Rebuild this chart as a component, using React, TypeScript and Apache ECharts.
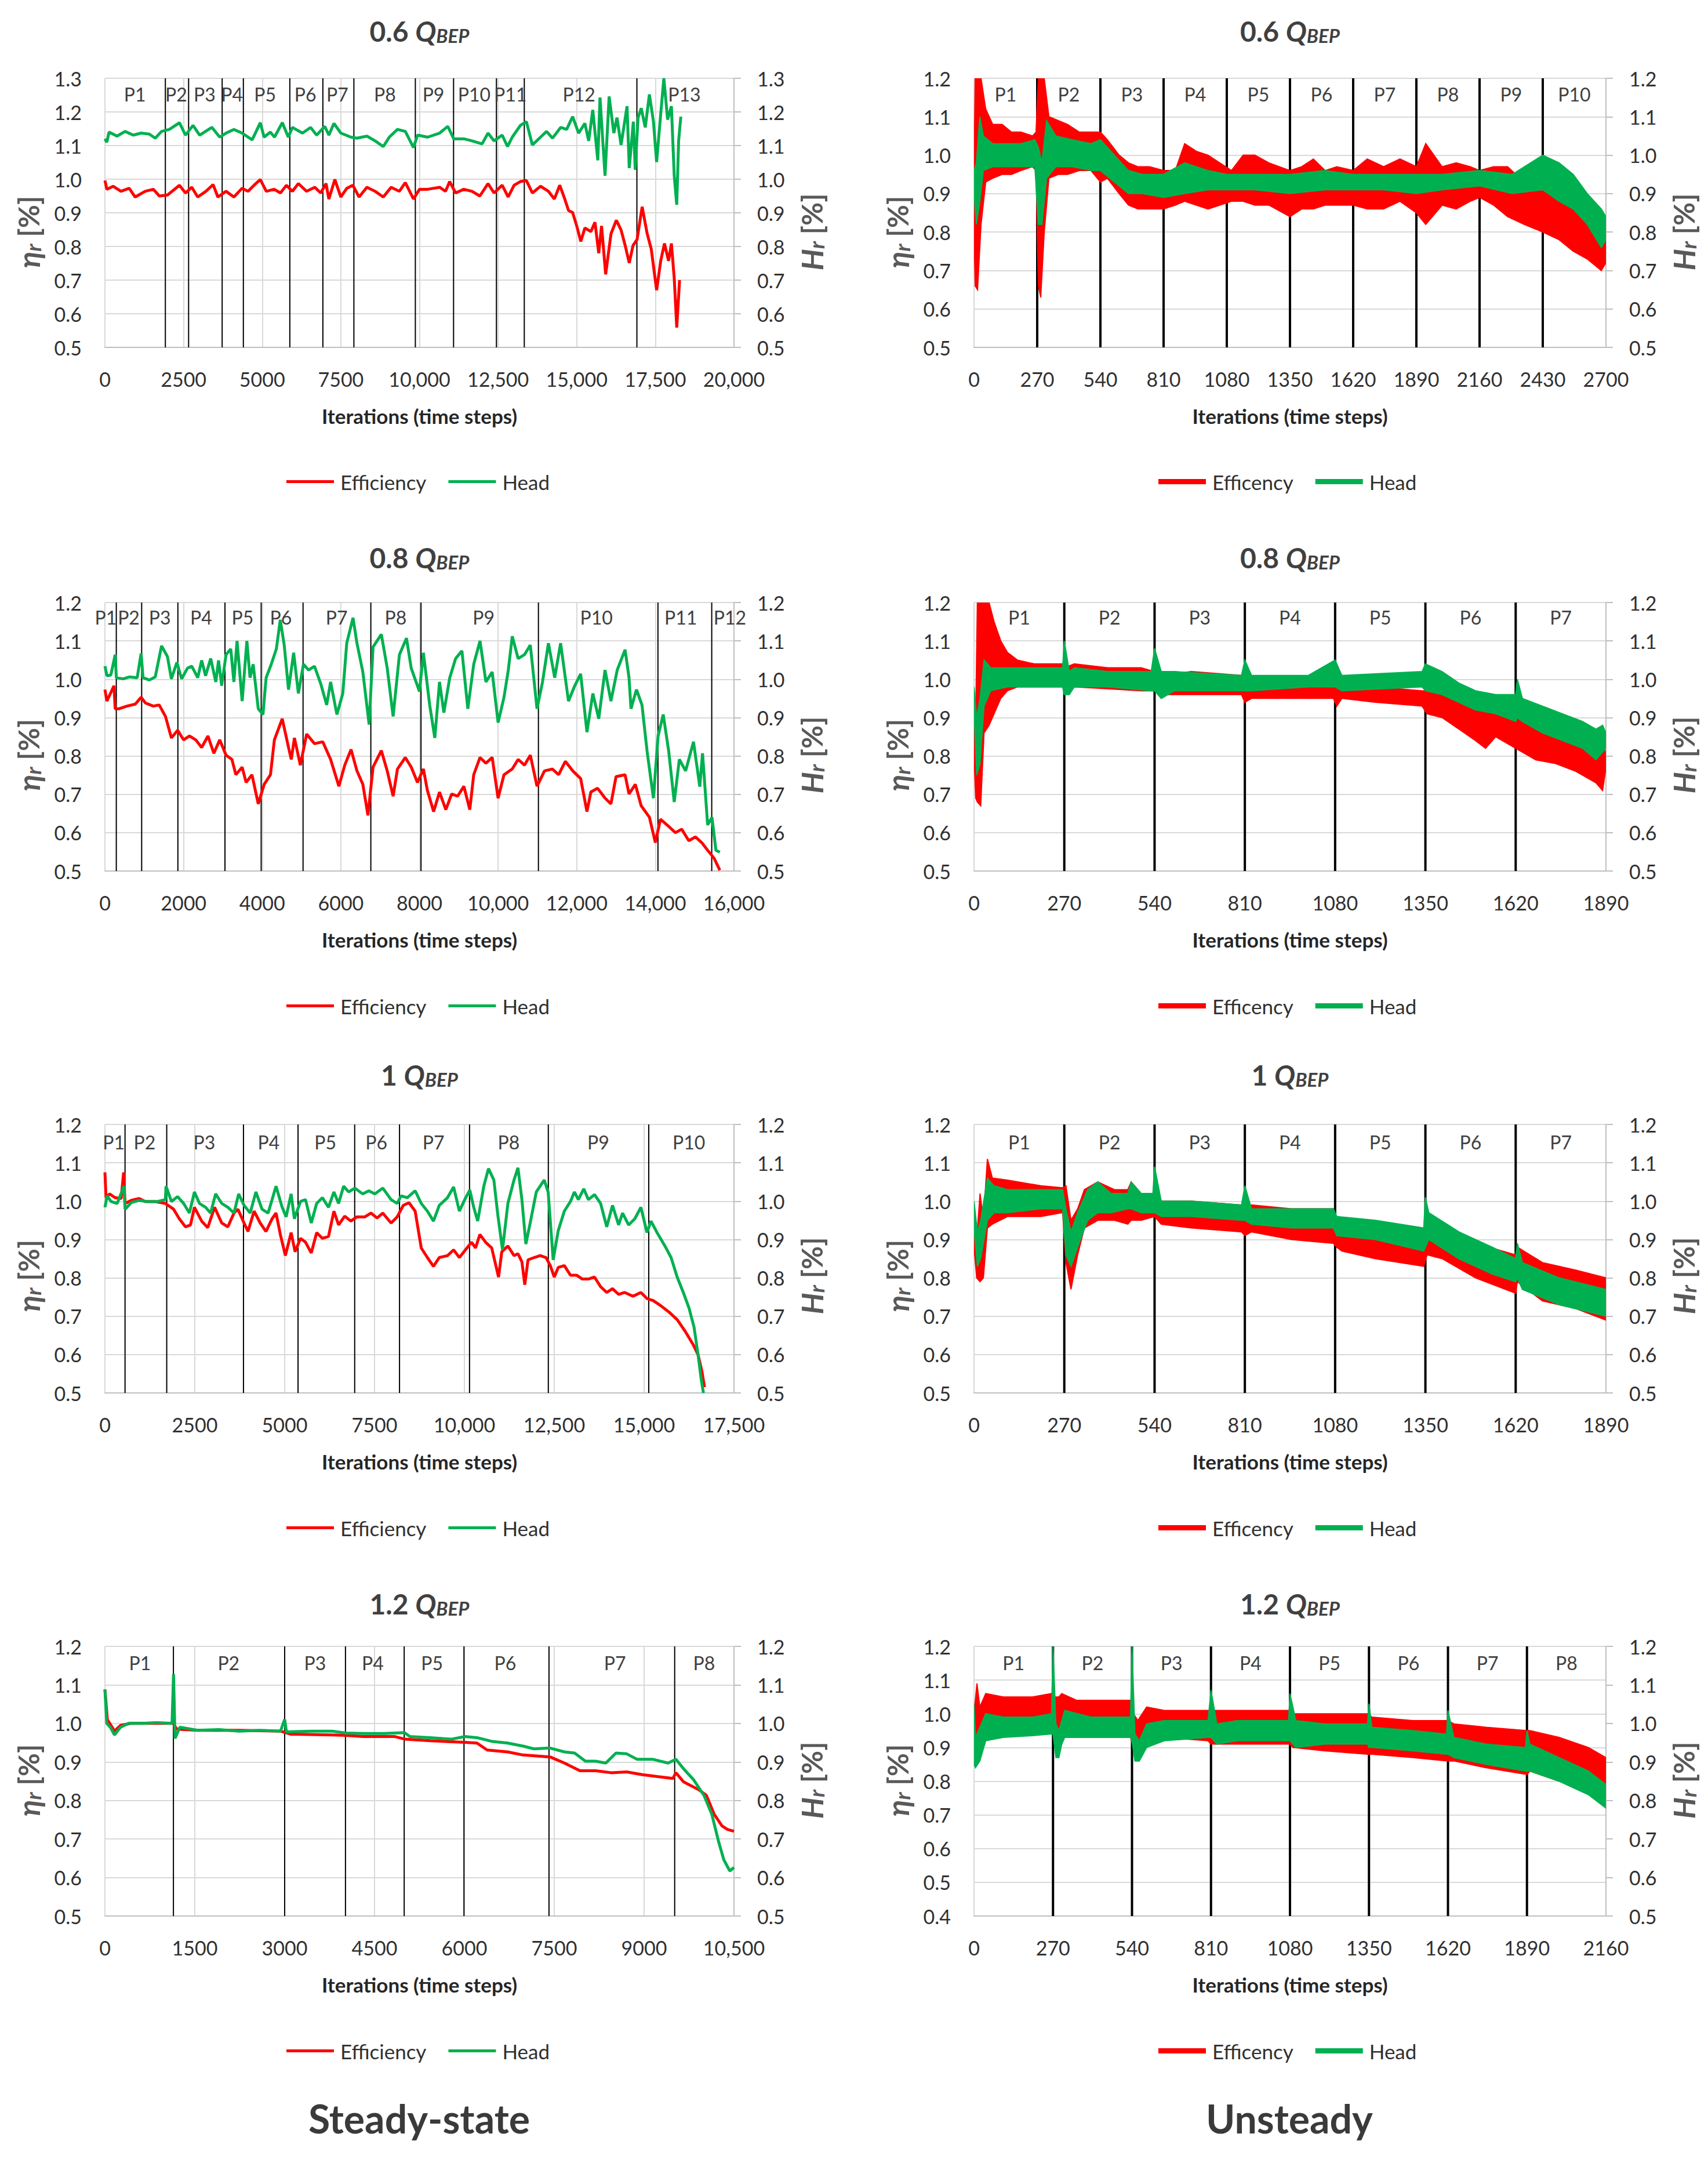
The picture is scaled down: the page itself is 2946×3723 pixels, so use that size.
import React, { useEffect, useRef } from "react";
import * as echarts from "echarts";

const RED = "#ff0000";
const GREEN = "#00b050";
const TXT = "#404040";
const TICK = "#303030";
const FONT = 'Lato, "Open Sans", "DejaVu Sans", sans-serif';

// ---------------- Steady-state 0.6 Q_BEP ----------------
const s06Periods = [1921, 2660, 3727, 4401, 5878, 6929, 7915, 9869, 11084, 12447, 13333, 16913];
const s06Labels = ["P1", "P2", "P3", "P4", "P5", "P6", "P7", "P8", "P9", "P10", "P11", "P12", "P13"];
const s06LabelX = [952, 2266, 3169, 4039, 5090, 6371, 7389, 8900, 10443, 11741, 12890, 15074, 18424];
const s06Eff = [
  [0, 0.996], [60, 0.97], [260, 0.979], [510, 0.964], [770, 0.973], [960, 0.947], [1280, 0.964], [1540, 0.97],
  [1730, 0.95], [1990, 0.953], [2370, 0.982], [2560, 0.959], [2760, 0.976], [2950, 0.947], [3210, 0.964],
  [3440, 0.984], [3590, 0.947], [3850, 0.964], [4100, 0.947], [4360, 0.973], [4550, 0.964], [4740, 0.982],
  [4940, 0.999], [5130, 0.964], [5380, 0.97], [5580, 0.959], [5770, 0.982], [5960, 0.964], [6150, 0.987],
  [6410, 0.964], [6670, 0.976], [6860, 0.959], [7030, 0.987], [7120, 0.941], [7310, 0.999], [7500, 0.947],
  [7690, 0.973], [7880, 0.982], [8080, 0.947], [8330, 0.976], [8590, 0.964], [8850, 0.947], [9100, 0.976],
  [9360, 0.964], [9550, 0.99], [9810, 0.941], [10000, 0.97], [10260, 0.97], [10640, 0.976], [10830, 0.964],
  [10960, 0.993], [11150, 0.959], [11410, 0.97], [11670, 0.964], [11920, 0.95], [12180, 0.987], [12370, 0.959],
  [12630, 0.982], [12820, 0.947], [13010, 0.982], [13210, 0.993], [13400, 0.996], [13590, 0.959], [13850, 0.979],
  [14100, 0.964], [14290, 0.941], [14460, 0.982], [14620, 0.941], [14740, 0.907], [14870, 0.901], [15000, 0.861],
  [15130, 0.815], [15260, 0.855], [15450, 0.844], [15580, 0.872], [15700, 0.78], [15790, 0.861], [15920, 0.717],
  [16090, 0.838], [16260, 0.878], [16410, 0.849], [16540, 0.803], [16670, 0.751], [16790, 0.803], [16920, 0.821],
  [17080, 0.918], [17240, 0.838], [17370, 0.792], [17540, 0.67], [17670, 0.757], [17790, 0.809], [17920, 0.757],
  [18010, 0.809], [18100, 0.706], [18180, 0.559], [18270, 0.7],
];
const s06Head = [
  [0, 1.12], [60, 1.11], [130, 1.14], [385, 1.128], [640, 1.142], [900, 1.131], [1150, 1.137], [1410, 1.134],
  [1600, 1.122], [1800, 1.142], [2050, 1.148], [2370, 1.168], [2560, 1.131], [2800, 1.16], [3010, 1.131],
  [3400, 1.154], [3650, 1.125], [3850, 1.137], [4100, 1.148], [4360, 1.137], [4680, 1.117], [4940, 1.168],
  [5060, 1.125], [5260, 1.14], [5390, 1.125], [5640, 1.168], [5830, 1.125], [5960, 1.154], [6280, 1.137],
  [6540, 1.154], [6730, 1.131], [6990, 1.157], [7120, 1.131], [7280, 1.166], [7500, 1.137], [7820, 1.125],
  [8010, 1.122], [8330, 1.128], [8590, 1.114], [8850, 1.097], [9040, 1.125], [9300, 1.148], [9550, 1.142],
  [9810, 1.094], [9940, 1.131], [10260, 1.125], [10640, 1.137], [10900, 1.157], [11090, 1.12], [11410, 1.12],
  [11670, 1.114], [11990, 1.105], [12180, 1.137], [12370, 1.114], [12630, 1.131], [12800, 1.097], [12950, 1.125],
  [13210, 1.16], [13400, 1.171], [13590, 1.102], [13850, 1.125], [14040, 1.142], [14230, 1.122], [14490, 1.154],
  [14680, 1.148], [14870, 1.186], [15060, 1.137], [15260, 1.166], [15380, 1.114], [15510, 1.206], [15670, 1.056],
  [15740, 1.243], [15900, 1.01], [16030, 1.246], [16180, 1.137], [16280, 1.183], [16410, 1.102], [16600, 1.217],
  [16670, 1.033], [16800, 1.171], [16860, 1.028], [16950, 1.183], [17050, 1.211], [17180, 1.154], [17310, 1.252],
  [17440, 1.171], [17540, 1.051], [17670, 1.194], [17770, 1.3], [17890, 1.177], [18010, 1.217], [18100, 1.01],
  [18180, 0.924], [18240, 1.114], [18310, 1.186],
];

// ---------------- Steady-state 0.8 Q_BEP ----------------
const s08Periods = [289, 934, 1855, 3053, 3974, 5039, 6763, 8039, 11026, 14066, 15434];
const s08Labels = ["P1", "P2", "P3", "P4", "P5", "P6", "P7", "P8", "P9", "P10", "P11", "P12"];
const s08LabelX = [20, 605, 1395, 2447, 3500, 4474, 5895, 7395, 9632, 12500, 14645, 15895];
const s08Eff = [
  [0, 0.973], [50, 0.943], [230, 0.983], [260, 0.923], [360, 0.923], [560, 0.93], [770, 0.935], [920, 0.953],
  [1030, 0.938], [1230, 0.93], [1380, 0.933], [1540, 0.903], [1690, 0.847], [1850, 0.867], [2000, 0.842],
  [2150, 0.852], [2310, 0.842], [2460, 0.822], [2620, 0.852], [2770, 0.807], [2920, 0.842], [3080, 0.802],
  [3230, 0.791], [3330, 0.751], [3490, 0.771], [3590, 0.731], [3740, 0.751], [3900, 0.675], [4050, 0.726],
  [4210, 0.751], [4310, 0.842], [4510, 0.897], [4670, 0.822], [4740, 0.791], [4820, 0.847], [4970, 0.776],
  [5130, 0.857], [5330, 0.832], [5540, 0.837], [5740, 0.791], [5950, 0.721], [6100, 0.776], [6260, 0.817],
  [6410, 0.761], [6560, 0.726], [6690, 0.645], [6820, 0.771], [7030, 0.814], [7180, 0.761], [7330, 0.695],
  [7440, 0.766], [7640, 0.796], [7790, 0.771], [7950, 0.731], [8100, 0.766], [8200, 0.711], [8360, 0.655],
  [8510, 0.706], [8670, 0.66], [8820, 0.701], [8970, 0.695], [9130, 0.721], [9280, 0.66], [9380, 0.751],
  [9540, 0.796], [9690, 0.781], [9850, 0.796], [10000, 0.69], [10150, 0.751], [10360, 0.766], [10510, 0.791],
  [10670, 0.776], [10820, 0.802], [10990, 0.721], [11180, 0.761], [11380, 0.766], [11540, 0.751], [11710, 0.786],
  [11900, 0.761], [12100, 0.741], [12260, 0.655], [12360, 0.706], [12530, 0.716], [12720, 0.69], [12870, 0.675],
  [13000, 0.746], [13230, 0.751], [13330, 0.701], [13490, 0.726], [13640, 0.67], [13850, 0.64], [14000, 0.574],
  [14130, 0.635], [14310, 0.619], [14510, 0.6], [14670, 0.609], [14850, 0.579], [15020, 0.589], [15180, 0.574],
  [15330, 0.554], [15490, 0.534], [15640, 0.502],
];
const s08Head = [
  [0, 1.034], [50, 1.009], [150, 1.011], [260, 1.064], [290, 1.004], [460, 1.001], [620, 1.006], [820, 1.004],
  [920, 1.067], [970, 1.004], [1130, 0.998], [1280, 1.006], [1440, 1.087], [1590, 1.059], [1690, 1.001],
  [1830, 1.044], [1950, 1.001], [2100, 1.029], [2210, 1.034], [2360, 1.004], [2460, 1.049], [2560, 1.009],
  [2690, 1.054], [2820, 0.993], [2890, 1.049], [2970, 0.983], [3080, 1.064], [3200, 1.079], [3280, 0.993],
  [3360, 1.1], [3490, 0.943], [3610, 1.1], [3690, 1.004], [3770, 1.039], [3900, 0.923], [4020, 0.908],
  [4100, 1.004], [4230, 1.039], [4360, 1.079], [4460, 1.155], [4560, 1.089], [4670, 0.973], [4800, 1.069],
  [4920, 0.963], [5050, 1.039], [5180, 1.024], [5330, 1.034], [5490, 0.988], [5640, 0.933], [5740, 0.993],
  [5900, 0.908], [6050, 0.963], [6150, 1.094], [6310, 1.16], [6410, 1.094], [6560, 1.019], [6720, 0.882],
  [6820, 1.084], [7030, 1.117], [7180, 1.029], [7330, 0.903], [7490, 1.064], [7670, 1.107], [7790, 1.029],
  [8000, 0.968], [8100, 1.069], [8260, 0.933], [8390, 0.847], [8510, 0.993], [8620, 0.913], [8770, 1.004],
  [8920, 1.054], [9080, 1.074], [9230, 0.923], [9380, 1.039], [9540, 1.1], [9690, 0.993], [9850, 1.019],
  [10000, 0.887], [10150, 0.953], [10260, 1.024], [10360, 1.112], [10510, 1.054], [10670, 1.064], [10820, 1.089],
  [10990, 0.923], [11130, 0.993], [11280, 1.094], [11440, 1.004], [11590, 1.094], [11790, 0.943], [11950, 0.983],
  [12100, 1.014], [12260, 0.862], [12410, 0.963], [12560, 0.897], [12720, 1.024], [12870, 0.943], [13030, 1.024],
  [13230, 1.077], [13330, 1.004], [13380, 0.923], [13520, 0.973], [13660, 0.933], [13790, 0.812], [13950, 0.69],
  [14070, 0.852], [14200, 0.908], [14340, 0.812], [14480, 0.68], [14610, 0.791], [14770, 0.761], [14970, 0.837],
  [15130, 0.72], [15200, 0.807], [15330, 0.62], [15440, 0.64], [15540, 0.554], [15640, 0.549],
];

// ---------------- Steady-state 1 Q_BEP ----------------
const s10Periods = [559, 1719, 3854, 5372, 6948, 8195, 10143, 12335, 15129];
const s10Labels = ["P1", "P2", "P3", "P4", "P5", "P6", "P7", "P8", "P9", "P10"];
const s10LabelX = [244, 1103, 2765, 4556, 6132, 7550, 9140, 11232, 13725, 16246];
const s10Eff = [
  [0, 1.075], [30, 1.009], [130, 1.019], [280, 1.009], [450, 1.007], [520, 1.075], [560, 0.994], [730, 1.002],
  [950, 1.007], [1120, 0.999], [1400, 0.999], [1680, 0.994], [1910, 0.979], [2070, 0.954], [2240, 0.933],
  [2380, 0.938], [2490, 0.984], [2690, 0.948], [2860, 0.931], [3050, 0.984], [3250, 0.943], [3420, 0.933],
  [3590, 0.969], [3700, 0.979], [3870, 0.943], [3980, 0.921], [4150, 0.974], [4320, 0.943], [4480, 0.921],
  [4650, 0.954], [4760, 0.969], [4880, 0.913], [5020, 0.858], [5180, 0.918], [5290, 0.868], [5440, 0.903],
  [5580, 0.893], [5740, 0.865], [5890, 0.918], [6050, 0.903], [6220, 0.908], [6370, 0.974], [6500, 0.938],
  [6670, 0.961], [6840, 0.948], [7010, 0.959], [7230, 0.959], [7400, 0.969], [7570, 0.956], [7730, 0.969],
  [7960, 0.943], [8130, 0.959], [8300, 0.989], [8460, 0.996], [8630, 0.974], [8800, 0.878], [8970, 0.853],
  [9140, 0.83], [9300, 0.853], [9530, 0.858], [9700, 0.873], [9860, 0.853], [10030, 0.873], [10200, 0.893],
  [10310, 0.878], [10430, 0.913], [10590, 0.893], [10760, 0.878], [10850, 0.842], [10950, 0.802], [11040, 0.868],
  [11210, 0.883], [11380, 0.858], [11490, 0.863], [11600, 0.842], [11680, 0.782], [11770, 0.847], [11940, 0.853],
  [12110, 0.858], [12270, 0.853], [12390, 0.832], [12500, 0.802], [12610, 0.827], [12780, 0.832], [12950, 0.807],
  [13120, 0.807], [13280, 0.797], [13450, 0.797], [13620, 0.802], [13790, 0.777], [13960, 0.762], [14120, 0.772],
  [14290, 0.757], [14460, 0.762], [14690, 0.752], [14910, 0.762], [15080, 0.746], [15250, 0.741], [15470, 0.727],
  [15690, 0.711], [15920, 0.691], [16140, 0.661], [16370, 0.625], [16500, 0.6], [16610, 0.555], [16680, 0.515],
];
const s10Head = [
  [0, 0.984], [60, 1.014], [170, 0.999], [340, 0.994], [530, 1.039], [560, 0.979], [730, 0.996], [950, 1.002],
  [1180, 0.999], [1460, 0.999], [1680, 1.004], [1700, 1.039], [1850, 0.999], [2020, 1.012], [2190, 0.994],
  [2350, 0.969], [2490, 1.024], [2630, 0.994], [2800, 0.984], [2940, 0.969], [3080, 1.019], [3250, 0.994],
  [3420, 0.984], [3590, 0.969], [3720, 1.019], [3870, 0.989], [4040, 0.969], [4200, 1.024], [4370, 0.979],
  [4540, 0.969], [4760, 1.039], [4930, 0.984], [5040, 0.959], [5180, 1.019], [5270, 0.954], [5440, 0.999],
  [5580, 1.004], [5740, 0.943], [5890, 0.994], [6050, 1.009], [6220, 0.984], [6370, 1.024], [6500, 0.994],
  [6640, 1.039], [6780, 1.024], [6950, 1.034], [7170, 1.019], [7340, 1.027], [7510, 1.019], [7730, 1.034],
  [7960, 1.004], [8130, 0.994], [8240, 1.014], [8410, 1.009], [8630, 1.027], [8800, 0.994], [8970, 0.974],
  [9140, 0.948], [9300, 0.989], [9530, 1.009], [9700, 1.037], [9860, 0.974], [10010, 1.004], [10150, 1.029],
  [10260, 0.984], [10370, 0.948], [10540, 1.039], [10670, 1.085], [10820, 1.055], [10930, 0.964], [11060, 0.873],
  [11210, 0.994], [11380, 1.055], [11490, 1.087], [11600, 1.004], [11710, 0.888], [11830, 0.943], [12000, 1.024],
  [12220, 1.055], [12330, 1.024], [12470, 0.847], [12610, 0.923], [12780, 0.974], [12950, 0.999], [13060, 1.024],
  [13170, 1.004], [13320, 1.032], [13450, 1.004], [13620, 1.017], [13790, 0.994], [13960, 0.933], [14120, 0.989],
  [14290, 0.938], [14400, 0.969], [14570, 0.938], [14740, 0.954], [14910, 0.984], [15080, 0.918], [15190, 0.948],
  [15360, 0.918], [15580, 0.883], [15750, 0.853], [15920, 0.802], [16090, 0.762], [16250, 0.721], [16390, 0.671],
  [16500, 0.6], [16590, 0.534], [16650, 0.5],
];

// ---------------- Steady-state 1.2 Q_BEP ----------------
const s12Periods = [1143, 3000, 4015, 4995, 5993, 7412, 9510];
const s12Labels = ["P1", "P2", "P3", "P4", "P5", "P6", "P7", "P8"];
const s12LabelX = [585, 2064, 3508, 4471, 5460, 6681, 8512, 10000];
const s12Eff = [
  [0, 1.088], [40, 1.01], [160, 0.98], [260, 0.995], [430, 1.0], [860, 1.0], [1140, 1.0], [1200, 0.985],
  [1550, 0.982], [2240, 0.982], [2930, 0.98], [3100, 0.972], [3790, 0.97], [4020, 0.969], [4310, 0.966],
  [4830, 0.966], [5010, 0.959], [5430, 0.955], [6010, 0.951], [6210, 0.949], [6380, 0.931], [6720, 0.926],
  [6980, 0.918], [7430, 0.913], [7670, 0.897], [7930, 0.877], [8190, 0.877], [8450, 0.872], [8710, 0.874],
  [8970, 0.867], [9220, 0.862], [9480, 0.857], [9530, 0.872], [9660, 0.848], [9910, 0.828], [10040, 0.813],
  [10170, 0.764], [10300, 0.734], [10390, 0.725], [10500, 0.72],
];
const s12Head = [
  [0, 1.088], [30, 1.0], [90, 0.99], [160, 0.97], [260, 0.99], [390, 1.0], [600, 1.0], [860, 1.002],
  [1120, 1.0], [1145, 1.128], [1170, 0.961], [1250, 0.99], [1550, 0.982], [1900, 0.984], [2240, 0.98],
  [2590, 0.982], [2930, 0.98], [3000, 1.01], [3030, 0.978], [3450, 0.98], [3790, 0.98], [4020, 0.975],
  [4310, 0.974], [4660, 0.974], [5000, 0.976], [5090, 0.966], [5430, 0.963], [5780, 0.959], [6010, 0.966],
  [6210, 0.963], [6470, 0.953], [6720, 0.949], [6980, 0.941], [7160, 0.934], [7430, 0.936], [7670, 0.926],
  [7840, 0.923], [8020, 0.902], [8190, 0.902], [8360, 0.897], [8530, 0.923], [8710, 0.921], [8880, 0.907],
  [9140, 0.907], [9400, 0.897], [9530, 0.907], [9660, 0.882], [9830, 0.853], [10000, 0.813], [10130, 0.764],
  [10240, 0.695], [10330, 0.646], [10430, 0.617], [10500, 0.626],
];

// ---------------- Unsteady (bands: [iteration, low, high]) ----------------
const u06Periods = [270, 540, 810, 1080, 1350, 1620, 1890, 2160, 2430];
const u06Labels = ["P1", "P2", "P3", "P4", "P5", "P6", "P7", "P8", "P9", "P10"];
const u06LabelX = [135, 405, 675, 945, 1215, 1485, 1755, 2025, 2295, 2565];
const u06Eff = [
  [0, 0.8, 0.95], [5, 0.66, 1.2], [15, 0.65, 1.2], [30, 0.82, 1.2], [50, 0.93, 1.12], [80, 0.94, 1.08],
  [120, 0.95, 1.08], [160, 0.95, 1.06], [200, 0.96, 1.06], [250, 0.97, 1.05], [265, 0.96, 1.06], [275, 0.66, 1.2],
  [285, 0.63, 1.2], [300, 0.8, 1.2], [320, 0.94, 1.1], [360, 0.95, 1.09], [400, 0.95, 1.08], [450, 0.96, 1.06],
  [500, 0.96, 1.06], [540, 0.93, 1.06], [570, 0.94, 1.04], [620, 0.9, 1.0], [660, 0.87, 0.98], [700, 0.86, 0.97],
  [750, 0.86, 0.97], [810, 0.86, 0.96], [860, 0.87, 0.96], [900, 0.88, 1.03], [950, 0.87, 1.01], [1000, 0.86, 1.0],
  [1050, 0.87, 0.98], [1100, 0.88, 0.96], [1150, 0.88, 1.0], [1200, 0.87, 1.0], [1260, 0.87, 0.98],
  [1350, 0.84, 0.96], [1400, 0.86, 0.97], [1450, 0.86, 0.99], [1500, 0.87, 0.96], [1550, 0.87, 0.97],
  [1620, 0.87, 0.96], [1680, 0.86, 0.99], [1750, 0.86, 0.97], [1820, 0.88, 0.99], [1890, 0.85, 0.97],
  [1930, 0.82, 1.03], [2000, 0.87, 0.97], [2060, 0.86, 0.98], [2120, 0.88, 0.97], [2160, 0.89, 0.96],
  [2220, 0.87, 0.97], [2280, 0.84, 0.97], [2350, 0.82, 0.93], [2430, 0.8, 0.92], [2500, 0.78, 0.89],
  [2560, 0.75, 0.87], [2620, 0.73, 0.85], [2680, 0.7, 0.82], [2700, 0.72, 0.8],
];
const u06Head = [
  [0, 0.9, 0.96], [10, 0.82, 0.98], [25, 0.88, 1.1], [40, 0.96, 1.05], [80, 0.97, 1.03], [150, 0.97, 1.03],
  [200, 0.97, 1.03], [260, 0.97, 1.04], [275, 0.82, 1.02], [290, 0.82, 0.98], [310, 0.94, 1.09], [350, 0.97, 1.05],
  [420, 0.97, 1.04], [500, 0.96, 1.03], [540, 0.96, 1.04], [600, 0.93, 1.0], [660, 0.9, 0.96], [720, 0.9, 0.95],
  [810, 0.89, 0.95], [900, 0.9, 0.98], [1000, 0.91, 0.96], [1080, 0.91, 0.95], [1200, 0.91, 0.95],
  [1350, 0.9, 0.95], [1500, 0.91, 0.96], [1620, 0.91, 0.95], [1750, 0.91, 0.95], [1890, 0.9, 0.95],
  [2000, 0.91, 0.95], [2160, 0.92, 0.96], [2300, 0.9, 0.95], [2430, 0.91, 1.0], [2500, 0.88, 0.98],
  [2560, 0.86, 0.95], [2620, 0.82, 0.9], [2680, 0.76, 0.86], [2700, 0.78, 0.84],
];

const u08Periods = [270, 540, 810, 1080, 1350, 1620];
const u08Labels = ["P1", "P2", "P3", "P4", "P5", "P6", "P7"];
const u08LabelX = [135, 405, 675, 945, 1215, 1485, 1755];
const u08Eff = [
  [0, 0.8, 0.88], [5, 0.69, 0.9], [10, 0.68, 1.2], [20, 0.67, 1.2], [30, 0.86, 1.2], [45, 0.88, 1.2],
  [60, 0.91, 1.15], [80, 0.95, 1.1], [100, 0.97, 1.07], [130, 0.98, 1.05], [180, 0.98, 1.04], [265, 0.98, 1.04],
  [270, 0.97, 1.03], [300, 0.98, 1.04], [400, 0.975, 1.03], [500, 0.97, 1.03], [540, 0.97, 1.02],
  [560, 0.96, 1.01], [650, 0.96, 1.02], [800, 0.96, 1.01], [810, 0.94, 0.99], [830, 0.95, 1.0], [1000, 0.95, 1.0],
  [1075, 0.95, 1.0], [1085, 0.93, 0.98], [1100, 0.95, 0.98], [1200, 0.94, 0.98], [1340, 0.93, 0.97],
  [1355, 0.91, 0.97], [1400, 0.9, 0.96], [1450, 0.87, 0.94], [1500, 0.84, 0.92], [1530, 0.82, 0.92],
  [1560, 0.85, 0.93], [1620, 0.82, 0.91], [1680, 0.79, 0.89], [1740, 0.78, 0.87], [1800, 0.76, 0.85],
  [1860, 0.73, 0.83], [1880, 0.71, 0.85], [1890, 0.77, 0.8],
];
const u08Head = [
  [0, 0.92, 0.98], [8, 0.75, 0.9], [18, 0.78, 0.95], [30, 0.93, 1.05], [50, 0.97, 1.03], [100, 0.98, 1.03],
  [200, 0.98, 1.03], [265, 0.98, 1.03], [270, 0.96, 1.1], [285, 0.96, 1.02], [300, 0.98, 1.03], [400, 0.98, 1.02],
  [530, 0.97, 1.02], [540, 0.97, 1.08], [560, 0.95, 1.02], [600, 0.97, 1.02], [800, 0.97, 1.01], [810, 0.97, 1.05],
  [830, 0.97, 1.01], [1000, 0.98, 1.01], [1080, 0.98, 1.05], [1100, 0.97, 1.01], [1340, 0.98, 1.02],
  [1350, 0.97, 1.04], [1400, 0.96, 1.02], [1450, 0.94, 0.99], [1500, 0.92, 0.97], [1560, 0.91, 0.96],
  [1620, 0.89, 0.96], [1625, 0.9, 1.0], [1640, 0.89, 0.95], [1700, 0.86, 0.93], [1760, 0.84, 0.91],
  [1820, 0.82, 0.89], [1860, 0.79, 0.87], [1880, 0.81, 0.88], [1890, 0.82, 0.86],
];

const u10Periods = [270, 540, 810, 1080, 1350, 1620];
const u10Labels = ["P1", "P2", "P3", "P4", "P5", "P6", "P7"];
const u10LabelX = [135, 405, 675, 945, 1215, 1485, 1755];
const u10Eff = [
  [0, 0.88, 0.95], [8, 0.8, 0.9], [18, 0.79, 1.02], [28, 0.8, 0.95], [40, 0.93, 1.11], [55, 0.94, 1.06],
  [100, 0.96, 1.055], [200, 0.96, 1.04], [265, 0.97, 1.035], [275, 0.84, 1.04], [290, 0.77, 0.95],
  [310, 0.86, 0.98], [330, 0.93, 1.03], [370, 0.95, 1.05], [420, 0.95, 1.03], [460, 0.94, 1.03],
  [470, 0.95, 1.05], [500, 0.95, 1.02], [540, 0.96, 1.02], [560, 0.94, 1.0], [650, 0.93, 1.0], [800, 0.92, 0.99],
  [810, 0.91, 0.96], [830, 0.92, 0.99], [950, 0.9, 0.98], [1075, 0.89, 0.98], [1085, 0.88, 0.91],
  [1100, 0.87, 0.91], [1200, 0.85, 0.9], [1345, 0.83, 0.88], [1355, 0.86, 0.91], [1400, 0.85, 0.9],
  [1500, 0.8, 0.89], [1620, 0.76, 0.86], [1625, 0.79, 0.88], [1700, 0.74, 0.84], [1800, 0.72, 0.82],
  [1890, 0.69, 0.8],
];
const u10Head = [
  [0, 0.93, 1.0], [10, 0.83, 0.92], [20, 0.85, 0.95], [40, 0.95, 1.06], [60, 0.97, 1.04], [100, 0.97, 1.03],
  [200, 0.98, 1.03], [265, 0.98, 1.03], [275, 0.86, 0.98], [290, 0.83, 0.92], [310, 0.88, 0.97],
  [340, 0.95, 1.03], [370, 0.97, 1.05], [410, 0.97, 1.02], [460, 0.98, 1.02], [470, 0.98, 1.05],
  [500, 0.97, 1.02], [535, 0.97, 1.02], [540, 0.97, 1.09], [560, 0.96, 1.0], [650, 0.96, 1.0], [800, 0.95, 0.99],
  [810, 0.95, 1.04], [830, 0.94, 0.98], [950, 0.93, 0.98], [1075, 0.93, 0.98], [1085, 0.91, 0.96],
  [1200, 0.9, 0.95], [1345, 0.87, 0.93], [1350, 0.88, 1.01], [1360, 0.9, 0.97], [1450, 0.85, 0.92],
  [1550, 0.81, 0.88], [1620, 0.79, 0.85], [1625, 0.8, 0.89], [1640, 0.77, 0.84], [1750, 0.73, 0.8],
  [1890, 0.7, 0.77],
];

const u12Periods = [270, 540, 810, 1080, 1350, 1620, 1890];
const u12Labels = ["P1", "P2", "P3", "P4", "P5", "P6", "P7", "P8"];
const u12LabelX = [135, 405, 675, 945, 1215, 1485, 1755, 2025];
const u12Eff = [
  [0, 0.88, 1.0], [10, 0.9, 1.09], [20, 0.92, 1.02], [40, 0.94, 1.06], [100, 0.94, 1.05], [200, 0.95, 1.05],
  [265, 0.95, 1.06], [275, 0.94, 1.05], [290, 0.91, 1.05], [300, 0.93, 1.06], [350, 0.93, 1.04],
  [450, 0.93, 1.04], [535, 0.93, 1.04], [545, 0.9, 1.0], [560, 0.89, 0.98], [590, 0.93, 1.02], [650, 0.93, 1.01],
  [800, 0.92, 1.01], [810, 0.91, 1.01], [900, 0.91, 1.01], [1080, 0.91, 1.01], [1090, 0.9, 1.0],
  [1200, 0.89, 1.0], [1345, 0.88, 1.0], [1360, 0.88, 0.99], [1500, 0.87, 0.98], [1620, 0.86, 0.98],
  [1640, 0.86, 0.97], [1750, 0.84, 0.96], [1890, 0.82, 0.95], [1900, 0.83, 0.95], [2000, 0.8, 0.93],
  [2100, 0.78, 0.9], [2160, 0.77, 0.87],
];
const u12Head = [
  [0, 0.85, 1.03], [5, 0.84, 0.93], [20, 0.86, 0.96], [40, 0.92, 1.0], [100, 0.93, 0.99], [200, 0.935, 0.99],
  [265, 0.94, 1.0], [270, 0.94, 1.2], [280, 0.87, 0.97], [290, 0.87, 0.95], [300, 0.91, 0.98], [310, 0.93, 1.01],
  [400, 0.93, 0.99], [535, 0.93, 0.99], [540, 0.92, 1.2], [550, 0.86, 0.94], [565, 0.86, 0.92], [590, 0.9, 0.97],
  [650, 0.92, 0.98], [800, 0.93, 0.98], [810, 0.93, 1.07], [830, 0.91, 0.97], [900, 0.92, 0.98],
  [1075, 0.92, 0.98], [1080, 0.92, 1.06], [1100, 0.9, 0.98], [1200, 0.91, 0.97], [1345, 0.91, 0.97],
  [1350, 0.9, 1.03], [1360, 0.9, 0.96], [1500, 0.89, 0.95], [1615, 0.88, 0.94], [1620, 0.88, 1.01],
  [1640, 0.87, 0.93], [1750, 0.85, 0.91], [1885, 0.83, 0.9], [1890, 0.83, 0.95], [1900, 0.83, 0.91],
  [2000, 0.8, 0.87], [2100, 0.76, 0.83], [2160, 0.72, 0.79],
];

// ---------------- Panel definitions ----------------
const COLS = [
  { left: 181, width: 1085 },
  { left: 1680, width: 1090 },
];
const ROWS = [
  { top: 135, height: 464, titleY: 53, nameY: 400, legendY: 830, pOff: 27 },
  { top: 1039, height: 463, titleY: 961, nameY: 1302, legendY: 1734, pOff: 25 },
  { top: 1939, height: 463, titleY: 1853, nameY: 2200, legendY: 2634, pOff: 30 },
  { top: 2839, height: 465, titleY: 2765, nameY: 3070, legendY: 3536, pOff: 28 },
];

type Panel = {
  kind: "steady" | "unsteady";
  row: number;
  col: number;
  q: string;
  xMax: number;
  xStep: number;
  yMin: number;
  yMax: number;
  yMin2: number;
  periods: number[];
  labels: string[];
  labelX: number[];
  eff: number[][];
  head: number[][];
};

const PANELS: Panel[] = [
  { kind: "steady", row: 0, col: 0, q: "0.6", xMax: 20000, xStep: 2500, yMin: 0.5, yMax: 1.3, yMin2: 0.5, periods: s06Periods, labels: s06Labels, labelX: s06LabelX, eff: s06Eff, head: s06Head },
  { kind: "unsteady", row: 0, col: 1, q: "0.6", xMax: 2700, xStep: 270, yMin: 0.5, yMax: 1.2, yMin2: 0.5, periods: u06Periods, labels: u06Labels, labelX: u06LabelX, eff: u06Eff, head: u06Head },
  { kind: "steady", row: 1, col: 0, q: "0.8", xMax: 16000, xStep: 2000, yMin: 0.5, yMax: 1.2, yMin2: 0.5, periods: s08Periods, labels: s08Labels, labelX: s08LabelX, eff: s08Eff, head: s08Head },
  { kind: "unsteady", row: 1, col: 1, q: "0.8", xMax: 1890, xStep: 270, yMin: 0.5, yMax: 1.2, yMin2: 0.5, periods: u08Periods, labels: u08Labels, labelX: u08LabelX, eff: u08Eff, head: u08Head },
  { kind: "steady", row: 2, col: 0, q: "1", xMax: 17500, xStep: 2500, yMin: 0.5, yMax: 1.2, yMin2: 0.5, periods: s10Periods, labels: s10Labels, labelX: s10LabelX, eff: s10Eff, head: s10Head },
  { kind: "unsteady", row: 2, col: 1, q: "1", xMax: 1890, xStep: 270, yMin: 0.5, yMax: 1.2, yMin2: 0.5, periods: u10Periods, labels: u10Labels, labelX: u10LabelX, eff: u10Eff, head: u10Head },
  { kind: "steady", row: 3, col: 0, q: "1.2", xMax: 10500, xStep: 1500, yMin: 0.5, yMax: 1.2, yMin2: 0.5, periods: s12Periods, labels: s12Labels, labelX: s12LabelX, eff: s12Eff, head: s12Head },
  { kind: "unsteady", row: 3, col: 1, q: "1.2", xMax: 2160, xStep: 270, yMin: 0.4, yMax: 1.2, yMin2: 0.5, periods: u12Periods, labels: u12Labels, labelX: u12LabelX, eff: u12Eff, head: u12Head },
];

const fmtX = (v: number) => (v >= 10000 ? String(v).replace(/\B(?=(\d{3})+(?!\d))/g, ",") : String(v));

function bandSeries(name: string, color: string, data: number[][], i: number) {
  return {
    type: "custom",
    name,
    xAxisIndex: i,
    yAxisIndex: 2 * i,
    silent: true,
    clip: true,
    z: 4,
    itemStyle: { color },
    encode: { x: 0, y: [1, 2] },
    data,
    renderItem: (params: any, api: any) => {
      if (params.dataIndex !== 0) return null;
      const upper = data.map((d) => api.coord([d[0], d[2]]));
      const lower = data
        .slice()
        .reverse()
        .map((d) => api.coord([d[0], d[1]]));
      return {
        type: "polygon",
        shape: { points: upper.concat(lower) },
        style: { fill: color, stroke: color, lineWidth: 2, lineJoin: "miter" },
      };
    },
  };
}

function buildOption() {
  const grid: any[] = [];
  const xAxis: any[] = [];
  const yAxis: any[] = [];
  const series: any[] = [];
  const legend: any[] = [];
  const graphic: any[] = [];

  PANELS.forEach((p, i) => {
    const c = COLS[p.col];
    const r = ROWS[p.row];
    const steady = p.kind === "steady";
    const effName = steady ? "Efficiency" : "Efficency";
    const cx = c.left + c.width / 2;

    grid.push({ left: c.left, top: r.top, width: c.width, height: r.height });

    const tickLabel = { fontSize: 34, color: TICK, fontFamily: FONT };
    xAxis.push({
      type: "value",
      gridIndex: i,
      min: 0,
      max: p.xMax,
      interval: p.xStep,
      name: "Iterations (time steps)",
      nameLocation: "middle",
      nameGap: 100,
      nameTextStyle: { fontSize: 35, fontWeight: "bold", color: "#262626", fontFamily: FONT },
      axisLine: { show: true, onZero: false, lineStyle: { color: "#bfbfbf", width: 2 } },
      axisTick: { show: false },
      axisLabel: { ...tickLabel, margin: 37, formatter: fmtX },
      splitLine: { show: true, lineStyle: { color: "#d9d9d9", width: 2 } },
    });
    yAxis.push({
      type: "value",
      gridIndex: i,
      position: "left",
      min: p.yMin,
      max: p.yMax,
      interval: 0.1,
      axisLine: { show: false },
      axisTick: { show: false },
      axisLabel: { ...tickLabel, margin: 40, formatter: (v: number) => v.toFixed(1) },
      splitLine: { show: true, lineStyle: { color: "#d9d9d9", width: 2 } },
    });
    yAxis.push({
      type: "value",
      gridIndex: i,
      position: "right",
      min: p.yMin2,
      max: p.yMax,
      interval: 0.1,
      axisLine: { show: true, onZero: false, lineStyle: { color: "#bfbfbf", width: 2 } },
      axisTick: { show: true, length: 12, lineStyle: { color: "#bfbfbf", width: 2 } },
      axisLabel: { ...tickLabel, margin: 40, formatter: (v: number) => v.toFixed(1) },
      splitLine: { show: false },
    });

    // period boundary lines
    series.push({
      type: "custom",
      xAxisIndex: i,
      yAxisIndex: 2 * i,
      silent: true,
      z: 3,
      data: p.periods.map((v) => [v, p.yMin]),
      renderItem: (params: any, api: any) => {
        const cs = params.coordSys;
        const x = api.coord([api.value(0), p.yMin])[0];
        return {
          type: "line",
          shape: { x1: x, y1: cs.y, x2: x, y2: cs.y + cs.height },
          style: { stroke: "#000000", lineWidth: steady ? 2 : 4 },
        };
      },
    });

    if (steady) {
      series.push({
        type: "line", name: effName, xAxisIndex: i, yAxisIndex: 2 * i, data: p.eff,
        showSymbol: false, symbol: "none", silent: true, z: 4,
        lineStyle: { color: RED, width: 5 }, itemStyle: { color: RED },
      });
      series.push({
        type: "line", name: "Head", xAxisIndex: i, yAxisIndex: 2 * i, data: p.head,
        showSymbol: false, symbol: "none", silent: true, z: 4,
        lineStyle: { color: GREEN, width: 5 }, itemStyle: { color: GREEN },
      });
    } else {
      series.push(bandSeries(effName, RED, p.eff, i));
      series.push(bandSeries("Head", GREEN, p.head, i));
    }

    // P labels
    series.push({
      type: "custom",
      xAxisIndex: i,
      yAxisIndex: 2 * i,
      silent: true,
      z: 6,
      data: p.labelX.map((v) => [v, p.yMax]),
      renderItem: (params: any, api: any) => {
        const pt = api.coord([api.value(0), p.yMax]);
        return {
          type: "text",
          x: pt[0],
          y: pt[1] + r.pOff,
          style: {
            text: p.labels[params.dataIndex],
            fill: TXT,
            fontSize: 32,
            fontFamily: FONT,
            align: "center",
            verticalAlign: "middle",
          },
        };
      },
    });

    legend.push({
      data: [
        { name: effName, itemStyle: { color: RED, borderWidth: 0 } },
        { name: "Head", itemStyle: { color: GREEN, borderWidth: 0 } },
      ],
      icon: "rect",
      itemWidth: 82,
      itemHeight: steady ? 5 : 9,
      itemGap: 38,
      left: c.left + (steady ? 313 : 318),
      top: r.legendY - 17,
      padding: 0,
      selectedMode: false,
      textStyle: { fontSize: 35, color: TICK, fontFamily: FONT, padding: [0, 0, 0, 6] },
    });

    // title
    graphic.push({
      type: "text",
      x: cx,
      y: r.titleY,
      style: {
        text: `{a|${p.q} }{q|Q}{s|BEP}`,
        align: "center",
        verticalAlign: "middle",
        rich: {
          a: { fontSize: 48, fontWeight: "bold", fontFamily: FONT, fill: TXT },
          q: { fontSize: 48, fontWeight: "bold", fontStyle: "italic", fontFamily: FONT, fill: TXT },
          s: { fontSize: 33, fontWeight: "bold", fontStyle: "italic", fontFamily: FONT, fill: TXT, verticalAlign: "bottom" },
        },
      },
    });

    const nameRich = {
      e: { fontSize: 52, fontWeight: "bold", fontStyle: "italic", fontFamily: FONT, fill: "#595959" },
      r: { fontSize: 37, fontWeight: "bold", fontStyle: "italic", fontFamily: FONT, fill: "#595959", verticalAlign: "bottom" },
      t: { fontSize: 49, fontWeight: "bold", fontFamily: FONT, fill: "#595959" },
    };
    graphic.push({
      type: "text",
      x: c.left - 132,
      y: r.nameY,
      rotation: Math.PI / 2,
      style: { text: "{e|η}{r|r}{t| [%]}", align: "center", verticalAlign: "middle", rich: nameRich },
    });
    graphic.push({
      type: "text",
      x: c.left + c.width + 134,
      y: r.nameY,
      rotation: Math.PI / 2,
      style: { text: "{e|H}{r|r}{t| [%]}", align: "center", verticalAlign: "middle", rich: nameRich },
    });
  });

  graphic.push({
    type: "text",
    x: 723,
    y: 3652,
    style: { text: "Steady-state", fontSize: 68, fontWeight: "bold", fontFamily: FONT, fill: "#3a3a3a", align: "center", verticalAlign: "middle" },
  });
  graphic.push({
    type: "text",
    x: 2224,
    y: 3652,
    style: { text: "Unsteady", fontSize: 68, fontWeight: "bold", fontFamily: FONT, fill: "#3a3a3a", align: "center", verticalAlign: "middle" },
  });

  return {
    animation: false,
    backgroundColor: "#ffffff",
    textStyle: { fontFamily: FONT },
    grid,
    xAxis,
    yAxis,
    series,
    legend,
    graphic,
  };
}

export default function App() {
  const ref = useRef<HTMLDivElement>(null);
  useEffect(() => {
    if (!ref.current) return;
    const chart = echarts.init(ref.current, undefined, { renderer: "svg" });
    chart.setOption(buildOption() as any);
    return () => chart.dispose();
  }, []);
  return (
    <div
      ref={ref}
      style={{ position: "absolute", left: 0, top: 0, width: 2946, height: 3723, background: "#ffffff" }}
    />
  );
}
